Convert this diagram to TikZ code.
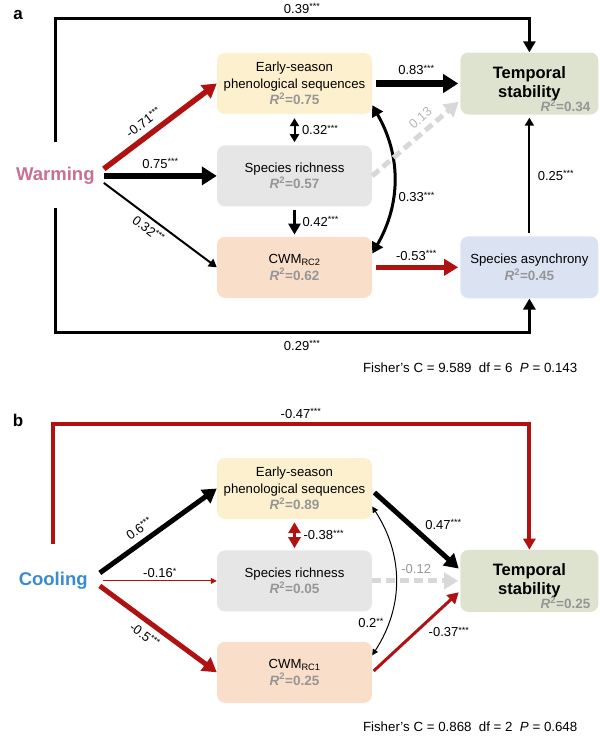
\documentclass[tikz,border=0pt]{standalone}
\usepackage{fontspec}
\setmainfont{Liberation Sans}
\usetikzlibrary{positioning}
\usetikzlibrary{arrows.meta}
\definecolor{boxyellow}{RGB}{253,240,206}
\definecolor{boxgray}{RGB}{230,230,230}
\definecolor{boxpeach}{RGB}{249,222,202}
\definecolor{boxgreen}{RGB}{222,227,208}
\definecolor{boxblue}{RGB}{219,227,243}
\definecolor{pathred}{RGB}{176,18,18}
\definecolor{dashgray}{RGB}{216,216,216}
\definecolor{rtwogray}{RGB}{150,150,150}
\definecolor{warmpink}{RGB}{200,112,146}
\definecolor{coolblue}{RGB}{58,140,208}

\newcommand{\rsq}[1]{{\fontsize{13.5}{16}\selectfont\color{rtwogray}\bfseries\itshape R\upshape\textsuperscript{2}=#1}}
\newcommand{\stars}[1]{\raisebox{0.5ex}{\fontsize{9}{9}\selectfont #1}}

\begin{document}
\begin{tikzpicture}[
            x = 1pt, y = -1pt, % pixel grid, y downwards
            font = \fontsize{13.2}{16.5}\selectfont,
            node distance = 30pt
        ]

        \tikzstyle{box}=[
            rounded corners = 8pt,
            minimum width = 155pt,
            minimum height = 61pt,
            align = center,
            inner sep = 2pt
        ]
        \tikzstyle{outbox}=[box, minimum width = 138pt, minimum height = 62pt]
        \tikzstyle{driver}=[font=\fontsize{18.5}{20}\selectfont\bfseries, inner sep=0pt]
        \tikzstyle{coef}=[font=\fontsize{13}{15}\selectfont, text=black, inner sep=1.5pt]
        \tikzstyle{heavy}=[line width=6.5pt, >={Triangle[length=15pt,width=18pt]}]
        \tikzstyle{strong}=[line width=5pt, >={Triangle[length=14pt,width=16pt]}]
        \tikzstyle{mid}=[line width=3pt, >={Triangle[length=11pt,width=12pt]}]
        \tikzstyle{light}=[line width=2pt, >={Triangle[length=8pt,width=9pt]}]
        \tikzstyle{hair}=[line width=1pt, >={Triangle[length=6pt,width=6pt]}]
        \tikzstyle{ns}=[strong, dashgray, dash pattern=on 9pt off 5pt]

        \useasboundingbox (0,0) rectangle (600,737);

	% panel a
        \node[font=\fontsize{17}{17}\selectfont\bfseries] (La) at (18,15) {a};
        \node[box, fill=boxyellow] (E1) at (294.5,83.5) {Early-season\\phenological sequences\\\rsq{0.75}};
        \node[box, fill=boxgray] (S1) [below=31pt of E1] {Species richness\\\rsq{0.57}};
        \node[box, fill=boxpeach] (C1) [below=30pt of S1] {CWM\textsubscript{RC2}\\\rsq{0.62}};
        \node[outbox, fill=boxgreen, font=\fontsize{16.5}{19}\selectfont\bfseries] (T1) [right=88pt of E1] {Temporal\\stability};
        \node[anchor=south east, inner sep=1pt] (R1) at ([xshift=-7pt,yshift=2pt]T1.south east) {\rsq{0.34}};
        \node[outbox, fill=boxblue] (A1) [right=88pt of C1] {Species asynchrony\\\rsq{0.45}};
        \node[driver, text=warmpink] (W1) [left=122pt of S1] {Warming};

        \draw[strong, ->, pathred, line width=5.5pt] ([xshift=9pt,yshift=7pt]W1.east) -- node[coef, sloped, above=4pt, pos=0.42] {-0.71\stars{***}} (E1.west);
        \draw[heavy, ->] ([xshift=9pt]W1.east) -- node[coef, above=3pt] {0.75\stars{***}} (S1.west);
        \draw[light, ->] ([xshift=9pt,yshift=-7pt]W1.east) -- node[coef, sloped, below=3pt, pos=0.45] {0.32\stars{***}} (C1.west);

        \draw[mid, ->] ([yshift=25pt]W1.north) |- node[coef, above=2pt, pos=0.76] {0.39\stars{***}} ([yshift=34pt]T1.north) -- (T1.north);
        \draw[mid, ->] ([yshift=-23pt]W1.south) |- node[coef, below=5pt, pos=0.76] {0.29\stars{***}} ([yshift=-34pt]A1.south) -- (A1.south);

        \draw[light, <->, shorten <=4pt, shorten >=3pt] (E1.south) -- node[coef, right=5pt] {0.32\stars{***}} (S1.north);
        \draw[mid, ->, shorten <=3pt, shorten >=2pt] (S1.south) -- node[coef, right=5pt] {0.42\stars{***}} (C1.north);
        \draw[mid, <->] ([yshift=9pt]E1.south east) to[bend left=30] node[coef, right=3pt, pos=0.62] {0.33\stars{***}} ([yshift=-17pt]C1.north east);

        \draw[heavy, ->, shorten <=4pt, shorten >=2pt] (E1.east) -- node[coef, above=4pt] {0.83\stars{***}} (T1.west);
        \draw[ns, ->, shorten >=2pt] (S1.east) -- node[coef, sloped, above=4pt, pos=0.64, text=rtwogray!70] {0.13} ([yshift=-17pt]T1.west);
        \draw[strong, ->, pathred, shorten <=4pt, shorten >=2pt] (C1.east) -- node[coef, above=3pt] {-0.53\stars{***}} (A1.west);
        \draw[light, ->, shorten <=3pt, shorten >=3pt] (A1.north) -- node[coef, right=6pt] {0.25\stars{***}} (T1.south);

        \node[coef, font=\fontsize{13.3}{15}\selectfont, anchor=east] (F1) at (579,368) {Fisher’s C = 9.589~~df = 6~~\textit{P} = 0.143};

	% panel b
        \node[font=\fontsize{17}{17}\selectfont\bfseries] (Lb) at (18,420) {b};
        \node[box, fill=boxyellow] (E2) at (294.5,488.5) {Early-season\\phenological sequences\\\rsq{0.89}};
        \node[box, fill=boxgray] (S2) [below=31pt of E2] {Species richness\\\rsq{0.05}};
        \node[box, fill=boxpeach] (C2) [below=30pt of S2] {CWM\textsubscript{RC1}\\\rsq{0.25}};
        \node[outbox, fill=boxgreen, font=\fontsize{16.5}{19}\selectfont\bfseries] (T2) [right=88pt of S2] {Temporal\\stability};
        \node[anchor=south east, inner sep=1pt] (R2) at ([xshift=-7pt,yshift=2pt]T2.south east) {\rsq{0.25}};
        \node[driver, text=coolblue] (K2) [left=129pt of S2] {Cooling};

        \draw[strong, ->] ([xshift=12pt,yshift=8pt]K2.east) -- node[coef, sloped, above=4pt, pos=0.4] {0.6\stars{***}} (E2.west);
        \draw[hair, ->, pathred] ([xshift=15pt]K2.east) -- node[coef, above=1pt] {-0.16\stars{*}} (S2.west);
        \draw[strong, ->, pathred] ([xshift=12pt,yshift=-5pt]K2.east) -- node[coef, sloped, below=4pt, pos=0.45] {-0.5\stars{***}} (C2.west);

        \draw[mid, ->, pathred, line width=4pt] ([yshift=28pt]K2.north) |- node[coef, above=2pt, pos=0.76] {-0.47\stars{***}} ([yshift=126pt]T2.north) -- (T2.north);

        \draw[mid, <->, pathred, shorten <=3pt, shorten >=2pt] (E2.south) -- node[coef, right=6pt] {-0.38\stars{***}} (S2.north);
        \draw[hair, <->] ([yshift=-18pt]E2.east) to[bend left=33] node[coef, left=3pt, pos=0.78] {0.2\stars{**}} ([yshift=17pt]C2.east);

        \draw[strong, ->, shorten <=3pt, shorten >=2pt] ([yshift=-2pt]E2.east) -- node[coef, above right=1pt, pos=0.55] {0.47\stars{***}} ([yshift=11pt]T2.west);
        \draw[ns, ->, shorten >=2pt] (S2.east) -- node[coef, above=3pt, text=rtwogray] {-0.12} (T2.west);
        \draw[mid, ->, pathred, shorten <=2pt, shorten >=2pt] (C2.east) -- node[coef, below right=1pt, pos=0.6] {-0.37\stars{***}} ([yshift=-10pt]T2.west);

        \node[coef, font=\fontsize{13.3}{15}\selectfont, anchor=east] (F2) at (579,727) {Fisher’s C = 0.868~~df = 2~~\textit{P} = 0.648};

\end{tikzpicture}
\end{document}
